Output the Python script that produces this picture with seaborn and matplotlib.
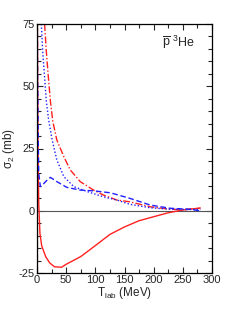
import matplotlib
matplotlib.use("Agg")
import matplotlib.pyplot as plt
import seaborn as sns
from matplotlib.ticker import MultipleLocator

# Data
solid_T = [0.5, 1, 2, 3, 5, 8, 11, 15, 22, 30, 42, 50, 75, 100, 125, 150, 175, 200, 225, 250, 265, 280]
solid_S = [75, 50, 20, 3, -9, -14, -16, -18.5, -21, -22.5, -22.7, -21.5, -18.4, -14, -9.5, -6.5, -4, -2.4, -0.8, 0.3, 0.7, 1.1]

dashdot_T = [13, 16, 19, 23, 27, 34, 46, 57, 74, 97, 114, 137, 159, 194, 228, 250, 279]
dashdot_S = [75, 64, 55, 44, 36, 28.4, 21.7, 16.4, 11.7, 8.3, 6.3, 4.3, 3.6, 1.6, 0.6, 0.4, 1.0]

dashdot0_T = [0.8, 1.0]
dashdot0_S = [-25, 75]

dotted_T = [7.4, 10, 12.6, 16, 20, 26, 34, 46, 63, 86, 114, 137, 159, 194, 230, 260, 280]
dotted_S = [75, 63, 55, 44, 36.4, 28.4, 20.4, 13.7, 9.7, 7.7, 5.6, 4.3, 2.6, 1.2, 0.6, 0.5, 0.5]

dashed_T = [0.5, 1, 2, 3, 5.7, 10, 16, 23, 34, 51, 74, 97, 126, 159, 194, 228, 262, 279]
dashed_S = [75, 55, 30, 15, 9.7, 10.5, 12, 13.4, 11.7, 9.4, 8.3, 8.0, 7.2, 5.0, 2.3, 1.0, 0.6, 0.0]

sns.set_style("ticks")
plt.rcParams['font.family'] = ['Liberation Sans', 'DejaVu Sans']
plt.rcParams['axes.unicode_minus'] = False
plt.rcParams['mathtext.fontset'] = 'custom'
plt.rcParams['mathtext.rm'] = 'Liberation Sans'
plt.rcParams['mathtext.it'] = 'Liberation Sans:italic'

fig = plt.figure(figsize=(2.49, 3.23), dpi=100)
ax = fig.add_axes([37/249, 1-273/323, 175/249, 249/323])

ax.axhline(0, color="#555555", lw=0.8, zorder=1)

red = "#ff2020"
blue = "#2020ff"
sns.lineplot(x=solid_T, y=solid_S, ax=ax, color=red, lw=1.0, sort=False, estimator=None)
sns.lineplot(x=dashdot_T, y=dashdot_S, ax=ax, color=red, lw=1.0, sort=False, estimator=None)
ax.lines[-1].set_dashes([5, 1.5, 1, 1.5])
sns.lineplot(x=dashdot0_T, y=dashdot0_S, ax=ax, color=red, lw=1.0, sort=False, estimator=None, alpha=0.6)
ax.lines[-1].set_dashes([5, 1.5, 1, 1.5])
sns.lineplot(x=dotted_T, y=dotted_S, ax=ax, color=blue, lw=1.0, sort=False, estimator=None)
ax.lines[-1].set_dashes([1, 1.5])
sns.lineplot(x=dashed_T, y=dashed_S, ax=ax, color=blue, lw=1.0, sort=False, estimator=None)
ax.lines[-1].set_dashes([4, 2])

ax.set_xlim(0, 300)
ax.set_ylim(-25, 75)
ax.xaxis.set_major_locator(MultipleLocator(50))
ax.xaxis.set_minor_locator(MultipleLocator(25))
ax.yaxis.set_major_locator(MultipleLocator(25))
ax.yaxis.set_minor_locator(MultipleLocator(5))
ax.tick_params(which="both", direction="in", top=True, right=True, labelsize=8, width=0.8, pad=1.5)
ax.tick_params(which="major", length=4)
ax.tick_params(which="minor", length=3)
for s in ax.spines.values():
    s.set_linewidth(0.9)
    s.set_color("black")

ax.set_xlabel(r"T$_{\rm lab}$ (MeV)", fontsize=8.5, labelpad=0)
ax.set_ylabel("σ$_2$ (mb)", fontsize=8.5, labelpad=1)
ax.text(0.714, 0.912, r"$\overline{\mathrm{p}}\ ^{3}\mathrm{He}$", transform=ax.transAxes,
        fontsize=9, ha="left", va="baseline")

fig.savefig("out.png", dpi=100)
